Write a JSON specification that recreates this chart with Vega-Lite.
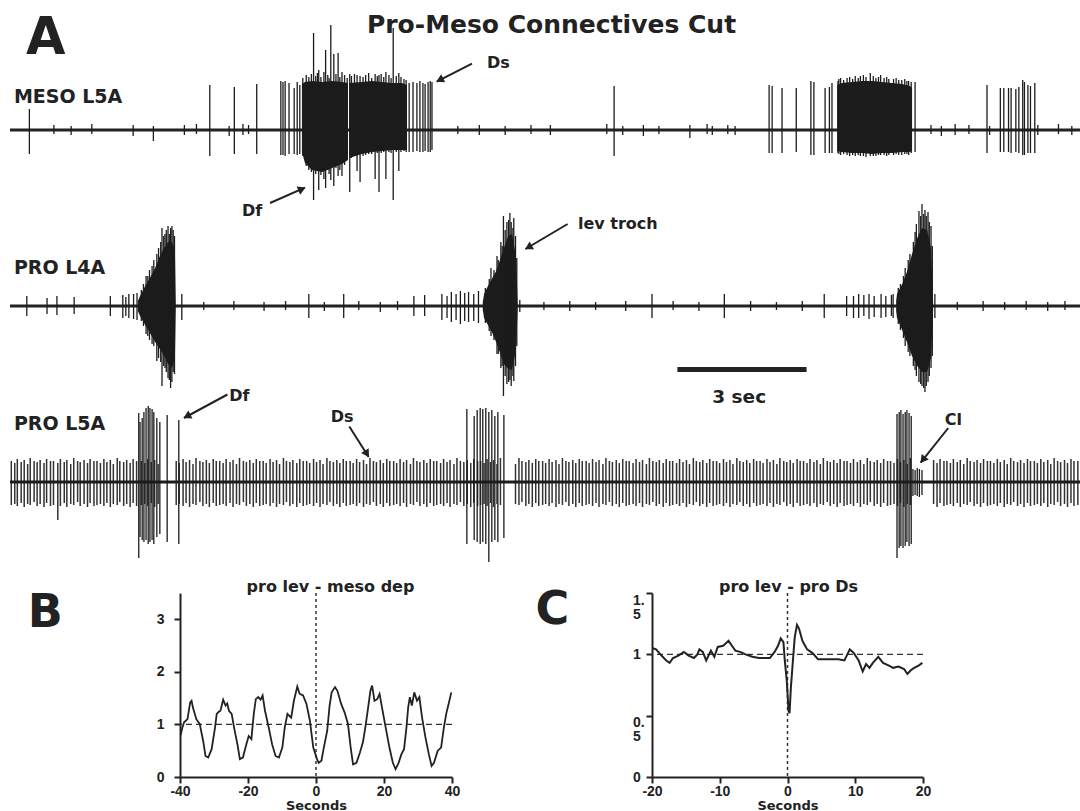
{
"$schema": "https://vega.github.io/schema/vega-lite/v6.json",
"background": "white",
"padding": {"left": 8, "top": 0, "right": 4, "bottom": 0},
"autosize": {"type": "pad"},
"config": {
 "view": {"stroke": null},
 "axis": {"grid": false, "domainColor": "#222", "domainWidth": 2, "tickColor": "#222", "tickWidth": 2, "tickSize": 6, "labelFont": "Liberation Sans", "labelFontSize": 14, "labelFontWeight": "bold", "labelColor": "#222", "labelFlush": false, "labelOverlap": false, "labelBound": false, "titleFont": "DejaVu Sans", "titleFontSize": 13, "titleFontWeight": "bold", "titleColor": "#222"},
 "text": {"font": "DejaVu Sans", "fontWeight": "bold", "color": "#222", "align": "left", "baseline": "alphabetic"}
},
"datasets": {
 "base": [{"t0": 0, "t1": 24.85}],
 "envM": [
  {"g":"a1","t":6.78,"h":46,"l":-22},{"g":"a1","t":6.85,"h":48,"l":-33},{"g":"a1","t":7.01,"h":49,"l":-40},{"g":"a1","t":7.25,"h":48,"l":-42},{"g":"a1","t":7.48,"h":49,"l":-38},{"g":"a1","t":7.71,"h":48,"l":-34},{"g":"a1","t":7.85,"h":47,"l":-30},
  {"g":"a2","t":7.88,"h":47,"l":-28},{"g":"a2","t":8.17,"h":48,"l":-24},{"g":"a2","t":8.41,"h":49,"l":-22},{"g":"a2","t":8.64,"h":48,"l":-21},{"g":"a2","t":8.87,"h":47,"l":-20},{"g":"a2","t":9.10,"h":47,"l":-20},{"g":"a2","t":9.22,"h":45,"l":-20},
  {"g":"b","t":19.21,"h":45,"l":-21},{"g":"b","t":19.32,"h":47,"l":-22},{"g":"b","t":19.55,"h":48,"l":-23},{"g":"b","t":19.79,"h":49,"l":-23},{"g":"b","t":20.02,"h":49,"l":-24},{"g":"b","t":20.25,"h":48,"l":-23},{"g":"b","t":20.48,"h":47,"l":-23},{"g":"b","t":20.72,"h":46,"l":-22},{"g":"b","t":20.90,"h":44,"l":-22},{"g":"b","t":20.95,"h":42,"l":-21}
 ],
 "spM": [
  {"t":0.45,"h":21,"l":-24},{"t":4.64,"h":45,"l":-26},{"t":5.21,"h":43,"l":-24},{"t":5.73,"h":46,"l":-24},{"t":6.29,"h":49,"l":-25},{"t":6.34,"h":48,"l":-25},{"t":6.39,"h":49,"l":-26},{"t":6.48,"h":47,"l":-24},{"t":6.60,"h":42,"l":-24},{"t":6.67,"h":48,"l":-25},{"t":6.73,"h":45,"l":-24},
  {"t":6.80,"h":52,"l":-26},{"t":6.88,"h":55,"l":-36},{"t":6.94,"h":53,"l":-40},{"t":7.00,"h":56,"l":-42},{"t":7.10,"h":54,"l":-44},{"t":7.14,"h":57,"l":-41},{"t":7.22,"h":53,"l":-45},{"t":7.38,"h":55,"l":-40},{"t":7.41,"h":52,"l":-44},{"t":7.57,"h":56,"l":-38},{"t":7.66,"h":53,"l":-40},{"t":7.77,"h":55,"l":-35},{"t":7.83,"h":52,"l":-30},{"t":7.93,"h":54,"l":-28},{"t":8.00,"h":56,"l":-26},{"t":8.20,"h":53,"l":-26},{"t":8.26,"h":55,"l":-25},{"t":8.33,"h":57,"l":-24},{"t":8.40,"h":52,"l":-24},{"t":8.53,"h":54,"l":-23},{"t":8.62,"h":56,"l":-23},{"t":8.68,"h":53,"l":-22},{"t":8.80,"h":55,"l":-22},{"t":8.85,"h":52,"l":-23},{"t":8.97,"h":54,"l":-22},{"t":9.08,"h":53,"l":-22},{"t":9.15,"h":51,"l":-21},{"t":9.20,"h":50,"l":-22},
  {"t":7.05,"h":97,"l":-70},{"t":7.17,"h":60,"l":-60},{"t":7.29,"h":58,"l":-49},{"t":7.33,"h":80,"l":-58},{"t":7.45,"h":105,"l":-50},{"t":7.52,"h":76,"l":-56},{"t":7.62,"h":77,"l":-46},{"t":7.71,"h":58,"l":-46},{"t":7.89,"h":56,"l":-62},{"t":8.06,"h":55,"l":-41},{"t":8.13,"h":54,"l":-52},{"t":8.48,"h":56,"l":-49},{"t":8.57,"h":55,"l":-62},{"t":8.73,"h":58,"l":-49},{"t":8.90,"h":102,"l":-70},{"t":9.03,"h":57,"l":-41},
  {"t":9.27,"h":47,"l":-22},{"t":9.36,"h":48,"l":-22},{"t":9.45,"h":47,"l":-21},{"t":9.52,"h":49,"l":-22},{"t":9.59,"h":47,"l":-22},{"t":9.64,"h":46,"l":-21},{"t":9.71,"h":48,"l":-22},{"t":9.76,"h":49,"l":-22},{"t":9.80,"h":48,"l":-20},
  {"t":14.03,"h":44,"l":-26},
  {"t":17.63,"h":45,"l":-23},{"t":17.70,"h":44,"l":-23},{"t":17.93,"h":42,"l":-23},{"t":18.26,"h":42,"l":-22},{"t":18.60,"h":49,"l":-25},{"t":18.67,"h":48,"l":-25},{"t":18.93,"h":42,"l":-23},{"t":19.03,"h":43,"l":-23},{"t":19.09,"h":47,"l":-23},
  {"t":19.23,"h":49,"l":-23},{"t":19.29,"h":52,"l":-25},{"t":19.36,"h":50,"l":-24},{"t":19.50,"h":53,"l":-26},{"t":19.57,"h":51,"l":-25},{"t":19.63,"h":54,"l":-26},{"t":19.70,"h":52,"l":-25},{"t":19.82,"h":55,"l":-26},{"t":19.88,"h":53,"l":-27},{"t":20.05,"h":54,"l":-26},{"t":20.11,"h":52,"l":-26},{"t":20.22,"h":55,"l":-25},{"t":20.30,"h":52,"l":-25},{"t":20.36,"h":53,"l":-26},{"t":20.52,"h":51,"l":-25},{"t":20.58,"h":52,"l":-24},{"t":20.64,"h":50,"l":-25},{"t":20.78,"h":51,"l":-24},{"t":20.83,"h":49,"l":-24},{"t":20.93,"h":48,"l":-23},
  {"t":19.25,"h":51,"l":-24},{"t":19.44,"h":52,"l":-25},{"t":19.75,"h":54,"l":-26},{"t":19.98,"h":57,"l":-26},{"t":20.17,"h":53,"l":-25},{"t":20.41,"h":51,"l":-25},{"t":20.71,"h":50,"l":-25},{"t":20.87,"h":49,"l":-25},{"t":21.02,"h":48,"l":-22},
  {"t":22.69,"h":45,"l":-23},{"t":23.00,"h":42,"l":-22},{"t":23.08,"h":42,"l":-22},{"t":23.19,"h":42,"l":-22},{"t":23.25,"h":42,"l":-23},{"t":23.36,"h":41,"l":-22},{"t":23.43,"h":43,"l":-23},{"t":23.52,"h":50,"l":-25},{"t":23.56,"h":48,"l":-25},{"t":23.64,"h":45,"l":-23},{"t":23.70,"h":44,"l":-23},{"t":23.80,"h":47,"l":-23},
  {"t":1.02,"h":5,"l":-4},{"t":1.42,"h":4,"l":-5},{"t":1.90,"h":6,"l":-4},{"t":2.86,"h":5,"l":-6},{"t":3.33,"h":4,"l":-11},{"t":4.05,"h":5,"l":-5},{"t":4.33,"h":6,"l":-4},{"t":5.09,"h":4,"l":-6},{"t":5.41,"h":6,"l":-5},{"t":5.54,"h":5,"l":-4},{"t":10.4,"h":4,"l":-4},{"t":10.9,"h":5,"l":-5},{"t":11.5,"h":4,"l":-5},{"t":12.1,"h":5,"l":-4},{"t":12.55,"h":5,"l":-5},{"t":13.86,"h":6,"l":-4},{"t":14.23,"h":4,"l":-5},{"t":14.71,"h":5,"l":-6},{"t":15.07,"h":4,"l":-4},{"t":15.79,"h":5,"l":-8},{"t":16.19,"h":6,"l":-4},{"t":16.31,"h":4,"l":-5},{"t":16.67,"h":5,"l":-4},{"t":16.84,"h":4,"l":-5},{"t":21.39,"h":5,"l":-4},{"t":21.63,"h":4,"l":-6},{"t":21.95,"h":6,"l":-5},{"t":22.27,"h":5,"l":-4},{"t":22.75,"h":4,"l":-5},{"t":23.87,"h":5,"l":-5},{"t":24.35,"h":6,"l":-4},{"t":24.66,"h":4,"l":-5}
 ],
 "txtM": [
  {"k":"letter","s":"A","t":0.37,"y":75.6},
  {"k":"title","s":"Pro-Meso Connectives Cut","t":8.29,"y":97},
  {"k":"trace","s":"MESO L5A","t":0.09,"y":27},
  {"k":"note","s":"Ds","t":11.08,"y":62.5},
  {"k":"note","s":"Df","t":5.39,"y":-85.5}
 ],
 "arrM": [
  {"id":"Ds","t":10.73,"y":66.3,"t2":9.91,"y2":48.4,"hx":9.98,"hy":50},
  {"id":"Df","t":6.04,"y":-73,"t2":6.85,"y2":-57.7,"hx":6.78,"hy":-59.1}
 ],
 "envP4": [
  {"g":"a","t":2.97,"h":5,"l":-5},{"g":"a","t":3.02,"h":10,"l":-10},{"g":"a","t":3.14,"h":20,"l":-19},{"g":"a","t":3.25,"h":28,"l":-27},{"g":"a","t":3.37,"h":38,"l":-36},{"g":"a","t":3.48,"h":50,"l":-43},{"g":"a","t":3.58,"h":58,"l":-50},{"g":"a","t":3.67,"h":64,"l":-58},{"g":"a","t":3.76,"h":64,"l":-62},{"g":"a","t":3.83,"h":56,"l":-54},{"g":"a","t":3.85,"h":3,"l":-3},
  {"g":"b","t":10.98,"h":4,"l":-4},{"g":"b","t":11.01,"h":12,"l":-12},{"g":"b","t":11.10,"h":20,"l":-19},{"g":"b","t":11.19,"h":27,"l":-26},{"g":"b","t":11.29,"h":35,"l":-36},{"g":"b","t":11.38,"h":46,"l":-47},{"g":"b","t":11.47,"h":58,"l":-58},{"g":"b","t":11.57,"h":70,"l":-63},{"g":"b","t":11.66,"h":72,"l":-64},{"g":"b","t":11.75,"h":50,"l":-45},{"g":"b","t":11.79,"h":3,"l":-3},
  {"g":"c","t":20.58,"h":5,"l":-5},{"g":"c","t":20.60,"h":12,"l":-12},{"g":"c","t":20.72,"h":22,"l":-24},{"g":"c","t":20.83,"h":34,"l":-36},{"g":"c","t":20.95,"h":52,"l":-50},{"g":"c","t":21.07,"h":68,"l":-60},{"g":"c","t":21.18,"h":78,"l":-66},{"g":"c","t":21.30,"h":76,"l":-66},{"g":"c","t":21.39,"h":58,"l":-52},{"g":"c","t":21.44,"h":3,"l":-3}
 ],
 "spP4": [
  {"t":0.39,"h":10,"l":-10},{"t":0.86,"h":8,"l":-8},{"t":1.09,"h":10,"l":-9},{"t":1.49,"h":9,"l":-8},{"t":2.33,"h":10,"l":-10},{"t":2.62,"h":11,"l":-12},{"t":2.69,"h":9,"l":-10},{"t":2.76,"h":12,"l":-12},{"t":2.87,"h":12,"l":-13},{"t":2.95,"h":13,"l":-14},
  {"t":3.05,"h":16,"l":-15},{"t":3.10,"h":22,"l":-20},{"t":3.16,"h":30,"l":-28},{"t":3.20,"h":30,"l":-30},{"t":3.24,"h":36,"l":-34},{"t":3.30,"h":40,"l":-38},{"t":3.34,"h":46,"l":-40},{"t":3.41,"h":52,"l":-55},{"t":3.45,"h":58,"l":-52},{"t":3.50,"h":64,"l":-56},{"t":3.53,"h":78,"l":-80},{"t":3.57,"h":70,"l":-60},{"t":3.60,"h":72,"l":-62},{"t":3.63,"h":76,"l":-66},{"t":3.67,"h":80,"l":-72},{"t":3.70,"h":72,"l":-74},{"t":3.73,"h":78,"l":-82},{"t":3.76,"h":80,"l":-76},{"t":3.79,"h":76,"l":-66},{"t":3.82,"h":70,"l":-68},
  {"t":3.99,"h":12,"l":-14},{"t":6.94,"h":12,"l":-12},{"t":7.75,"h":12,"l":-12},{"t":9.38,"h":10,"l":-10},{"t":9.63,"h":11,"l":-10},{"t":10.03,"h":12,"l":-14},{"t":10.15,"h":10,"l":-12},{"t":10.25,"h":14,"l":-16},{"t":10.36,"h":12,"l":-14},{"t":10.46,"h":15,"l":-18},{"t":10.56,"h":13,"l":-15},{"t":10.65,"h":14,"l":-16},{"t":10.77,"h":12,"l":-15},{"t":10.88,"h":15,"l":-17},
  {"t":4.5,"h":4,"l":-4},{"t":5.2,"h":5,"l":-4},{"t":5.9,"h":4,"l":-5},{"t":6.4,"h":5,"l":-4},{"t":7.3,"h":4,"l":-5},{"t":8.1,"h":5,"l":-4},{"t":8.6,"h":4,"l":-6},{"t":9.0,"h":5,"l":-4},
  {"t":11.04,"h":18,"l":-17},{"t":11.13,"h":27,"l":-25},{"t":11.17,"h":38,"l":-30},{"t":11.24,"h":36,"l":-34},{"t":11.31,"h":50,"l":-48},{"t":11.34,"h":46,"l":-48},{"t":11.40,"h":64,"l":-62},{"t":11.43,"h":60,"l":-60},{"t":11.46,"h":90,"l":-90},{"t":11.50,"h":76,"l":-70},{"t":11.54,"h":84,"l":-78},{"t":11.58,"h":86,"l":-76},{"t":11.61,"h":93,"l":-74},{"t":11.64,"h":84,"l":-80},{"t":11.68,"h":78,"l":-70},{"t":11.70,"h":88,"l":-75},{"t":11.74,"h":70,"l":-60},{"t":11.77,"h":48,"l":-40},
  {"t":11.84,"h":6,"l":-6},{"t":12.4,"h":4,"l":-4},{"t":13.0,"h":5,"l":-5},{"t":13.6,"h":4,"l":-4},{"t":14.3,"h":5,"l":-5},{"t":15.4,"h":5,"l":-4},{"t":16.0,"h":4,"l":-5},{"t":17.2,"h":5,"l":-5},{"t":17.8,"h":4,"l":-4},{"t":18.4,"h":5,"l":-5},
  {"t":14.91,"h":12,"l":-12},{"t":16.59,"h":12,"l":-12},{"t":18.91,"h":12,"l":-12},{"t":19.43,"h":10,"l":-10},{"t":19.59,"h":10,"l":-12},{"t":19.71,"h":12,"l":-12},{"t":19.83,"h":11,"l":-10},{"t":19.95,"h":12,"l":-13},{"t":20.07,"h":10,"l":-11},{"t":20.23,"h":12,"l":-12},{"t":20.34,"h":10,"l":-11},{"t":20.47,"h":11,"l":-10},{"t":20.51,"h":12,"l":-12},
  {"t":20.63,"h":18,"l":-18},{"t":20.68,"h":22,"l":-24},{"t":20.75,"h":30,"l":-32},{"t":20.79,"h":38,"l":-40},{"t":20.86,"h":46,"l":-46},{"t":20.90,"h":52,"l":-50},{"t":20.98,"h":64,"l":-60},{"t":21.02,"h":74,"l":-64},{"t":21.05,"h":82,"l":-70},{"t":21.11,"h":95,"l":-76},{"t":21.15,"h":90,"l":-78},{"t":21.18,"h":102,"l":-80},{"t":21.22,"h":92,"l":-82},{"t":21.25,"h":96,"l":-86},{"t":21.28,"h":90,"l":-80},{"t":21.32,"h":94,"l":-76},{"t":21.35,"h":84,"l":-70},{"t":21.39,"h":80,"l":-62},{"t":21.42,"h":60,"l":-50},
  {"t":21.48,"h":12,"l":-12},{"t":22.0,"h":4,"l":-4},{"t":22.6,"h":5,"l":-5},{"t":23.1,"h":4,"l":-4},{"t":23.6,"h":5,"l":-4},{"t":24.1,"h":4,"l":-5},{"t":24.5,"h":5,"l":-4}
 ],
 "txtP4": [
  {"k":"trace","s":"PRO L4A","t":0.09,"y":32},
  {"k":"note","s":"lev troch","t":13.19,"y":77},
  {"k":"bar","s":"3 sec","t":16.31,"y":-97}
 ],
 "arrP4": [
  {"id":"lev","t":12.95,"y":82,"t2":11.97,"y2":57,"hx":12.04,"hy":58.8}
 ],
 "bar": [{"t":15.5,"t2":18.5,"y":-63.5}],
 "p5burst": [
  {"t":2.99,"h":69,"l":-76},{"t":3.02,"h":60,"l":-55},{"t":3.07,"h":64,"l":-58},{"t":3.11,"h":70,"l":-60},{"t":3.16,"h":74,"l":-58},{"t":3.21,"h":76,"l":-62},{"t":3.25,"h":74,"l":-60},{"t":3.30,"h":73,"l":-58},{"t":3.34,"h":70,"l":-62},{"t":3.41,"h":64,"l":-55},{"t":3.48,"h":60,"l":-52},{"t":3.65,"h":67,"l":-60},{"t":3.92,"h":62,"l":-62},
  {"t":10.61,"h":73,"l":-62},{"t":10.78,"h":66,"l":-58},{"t":10.85,"h":72,"l":-60},{"t":10.92,"h":74,"l":-62},{"t":10.98,"h":73,"l":-60},{"t":11.05,"h":74,"l":-62},{"t":11.12,"h":70,"l":-80},{"t":11.19,"h":72,"l":-60},{"t":11.26,"h":66,"l":-58},{"t":11.33,"h":70,"l":-60},{"t":11.47,"h":67,"l":-56},
  {"t":20.60,"h":68,"l":-76},{"t":20.65,"h":70,"l":-66},{"t":20.69,"h":72,"l":-64},{"t":20.74,"h":68,"l":-66},{"t":20.79,"h":70,"l":-64},{"t":20.83,"h":72,"l":-60},{"t":20.88,"h":69,"l":-64},{"t":20.93,"h":66,"l":-62},
  {"t":20.97,"h":13,"l":-14},{"t":21.02,"h":12,"l":-13},{"t":21.07,"h":14,"l":-14},{"t":21.12,"h":13,"l":-15},{"t":21.18,"h":12,"l":-13}
 ],
 "p5band": [
  {"t":0.03,"h":21,"l":-23},{"t":0.11,"h":19,"l":-22},{"t":0.17,"h":23,"l":-24},{"t":0.26,"h":20,"l":-21},{"t":0.33,"h":22,"l":-25},{"t":0.41,"h":18,"l":-22},{"t":0.47,"h":24,"l":-23},{"t":0.56,"h":21,"l":-20},{"t":0.63,"h":20,"l":-24},{"t":0.70,"h":22,"l":-22},{"t":0.79,"h":19,"l":-25},{"t":0.85,"h":23,"l":-21},{"t":0.94,"h":21,"l":-24},{"t":1.01,"h":21,"l":-23},{"t":1.11,"h":19,"l":-38},{"t":1.17,"h":23,"l":-24},{"t":1.26,"h":20,"l":-21},{"t":1.32,"h":22,"l":-25},{"t":1.41,"h":18,"l":-22},{"t":1.48,"h":24,"l":-23},{"t":1.57,"h":21,"l":-20},{"t":1.63,"h":20,"l":-24},{"t":1.72,"h":22,"l":-22},{"t":1.80,"h":19,"l":-25},{"t":1.86,"h":23,"l":-21},{"t":1.95,"h":21,"l":-24},{"t":2.02,"h":21,"l":-23},{"t":2.10,"h":19,"l":-22},{"t":2.18,"h":23,"l":-24},{"t":2.25,"h":20,"l":-21},{"t":2.33,"h":22,"l":-25},{"t":2.40,"h":18,"l":-22},{"t":2.49,"h":24,"l":-23},{"t":2.55,"h":21,"l":-20},{"t":2.64,"h":20,"l":-24},{"t":2.71,"h":22,"l":-22},{"t":2.79,"h":19,"l":-25},{"t":2.86,"h":23,"l":-21},{"t":2.94,"h":21,"l":-24},{"t":3.05,"h":21,"l":-23},{"t":3.13,"h":19,"l":-22},{"t":3.20,"h":23,"l":-24},{"t":3.28,"h":20,"l":-21},{"t":3.36,"h":22,"l":-25},{"t":3.44,"h":18,"l":-22},
  {"t":3.86,"h":21,"l":-23},{"t":3.93,"h":19,"l":-22},{"t":4.02,"h":23,"l":-24},{"t":4.09,"h":20,"l":-21},{"t":4.17,"h":22,"l":-25},{"t":4.25,"h":18,"l":-22},{"t":4.32,"h":24,"l":-23},{"t":4.41,"h":21,"l":-20},{"t":4.48,"h":20,"l":-24},{"t":4.56,"h":22,"l":-22},{"t":4.63,"h":19,"l":-25},{"t":4.72,"h":23,"l":-21},{"t":4.79,"h":21,"l":-24},{"t":4.87,"h":21,"l":-23},{"t":4.95,"h":19,"l":-22},{"t":5.02,"h":23,"l":-24},{"t":5.11,"h":20,"l":-21},{"t":5.18,"h":22,"l":-25},{"t":5.26,"h":18,"l":-22},{"t":5.33,"h":24,"l":-23},{"t":5.42,"h":21,"l":-20},{"t":5.49,"h":20,"l":-24},{"t":5.57,"h":22,"l":-22},{"t":5.65,"h":19,"l":-25},{"t":5.72,"h":23,"l":-21},{"t":5.80,"h":21,"l":-24},{"t":5.88,"h":21,"l":-23},{"t":5.95,"h":19,"l":-22},{"t":6.04,"h":23,"l":-24},{"t":6.11,"h":20,"l":-21},{"t":6.19,"h":22,"l":-25},{"t":6.26,"h":18,"l":-22},{"t":6.35,"h":24,"l":-23},{"t":6.42,"h":21,"l":-20},{"t":6.50,"h":20,"l":-24},{"t":6.57,"h":22,"l":-22},{"t":6.66,"h":19,"l":-25},{"t":6.73,"h":23,"l":-21},{"t":6.81,"h":21,"l":-24},{"t":6.89,"h":21,"l":-23},{"t":6.96,"h":19,"l":-22},{"t":7.05,"h":23,"l":-24},{"t":7.12,"h":20,"l":-21},{"t":7.20,"h":22,"l":-25},{"t":7.27,"h":18,"l":-22},{"t":7.36,"h":24,"l":-23},{"t":7.43,"h":21,"l":-20},{"t":7.51,"h":20,"l":-24},{"t":7.59,"h":22,"l":-22},{"t":7.66,"h":19,"l":-25},{"t":7.74,"h":23,"l":-21},{"t":7.81,"h":21,"l":-24},{"t":7.90,"h":21,"l":-23},{"t":7.97,"h":19,"l":-22},{"t":8.05,"h":23,"l":-24},{"t":8.12,"h":20,"l":-21},{"t":8.21,"h":22,"l":-25},{"t":8.28,"h":18,"l":-22},{"t":8.36,"h":24,"l":-23},{"t":8.44,"h":21,"l":-20},{"t":8.51,"h":20,"l":-24},{"t":8.60,"h":22,"l":-22},{"t":8.67,"h":19,"l":-25},{"t":8.75,"h":23,"l":-21},{"t":8.82,"h":21,"l":-24},{"t":8.91,"h":21,"l":-23},{"t":8.98,"h":19,"l":-22},{"t":9.06,"h":23,"l":-24},{"t":9.14,"h":20,"l":-21},{"t":9.21,"h":22,"l":-25},{"t":9.30,"h":18,"l":-22},{"t":9.37,"h":24,"l":-23},{"t":9.45,"h":21,"l":-20},{"t":9.52,"h":20,"l":-24},{"t":9.61,"h":22,"l":-22},{"t":9.68,"h":19,"l":-25},{"t":9.76,"h":23,"l":-21},{"t":9.84,"h":21,"l":-24},{"t":9.91,"h":21,"l":-23},{"t":10.00,"h":19,"l":-22},{"t":10.07,"h":23,"l":-24},{"t":10.15,"h":20,"l":-21},{"t":10.22,"h":22,"l":-25},{"t":10.31,"h":18,"l":-22},{"t":10.38,"h":24,"l":-23},{"t":10.46,"h":21,"l":-20},{"t":10.54,"h":20,"l":-24},{"t":10.62,"h":22,"l":-22},{"t":10.70,"h":19,"l":-25},{"t":10.77,"h":23,"l":-21},{"t":10.86,"h":21,"l":-24},{"t":10.93,"h":21,"l":-23},{"t":11.01,"h":19,"l":-22},{"t":11.08,"h":23,"l":-24},{"t":11.16,"h":20,"l":-21},{"t":11.23,"h":22,"l":-25},{"t":11.31,"h":18,"l":-22},{"t":11.39,"h":24,"l":-23},
  {"t":11.74,"h":18,"l":-22},{"t":11.82,"h":24,"l":-23},{"t":11.89,"h":21,"l":-20},{"t":11.98,"h":20,"l":-24},{"t":12.05,"h":22,"l":-22},{"t":12.13,"h":19,"l":-25},{"t":12.21,"h":23,"l":-21},{"t":12.28,"h":21,"l":-24},{"t":12.37,"h":21,"l":-23},{"t":12.44,"h":19,"l":-22},{"t":12.52,"h":23,"l":-24},{"t":12.59,"h":20,"l":-21},{"t":12.68,"h":22,"l":-25},{"t":12.75,"h":18,"l":-22},{"t":12.83,"h":24,"l":-23},{"t":12.91,"h":21,"l":-20},{"t":12.98,"h":20,"l":-24},{"t":13.07,"h":22,"l":-22},{"t":13.14,"h":19,"l":-25},{"t":13.22,"h":23,"l":-21},{"t":13.29,"h":21,"l":-24},{"t":13.38,"h":21,"l":-23},{"t":13.45,"h":19,"l":-22},{"t":13.53,"h":23,"l":-24},{"t":13.61,"h":20,"l":-21},{"t":13.68,"h":22,"l":-25},{"t":13.77,"h":18,"l":-22},{"t":13.84,"h":24,"l":-23},{"t":13.92,"h":21,"l":-20},{"t":13.99,"h":20,"l":-24},{"t":14.08,"h":22,"l":-22},{"t":14.15,"h":19,"l":-25},{"t":14.23,"h":23,"l":-21},{"t":14.31,"h":21,"l":-24},{"t":14.38,"h":21,"l":-23},{"t":14.47,"h":19,"l":-22},{"t":14.54,"h":23,"l":-24},{"t":14.62,"h":20,"l":-21},{"t":14.69,"h":22,"l":-25},{"t":14.78,"h":18,"l":-22},{"t":14.85,"h":24,"l":-23},{"t":14.93,"h":21,"l":-20},{"t":15.01,"h":20,"l":-24},{"t":15.08,"h":22,"l":-22},{"t":15.17,"h":19,"l":-25},{"t":15.24,"h":23,"l":-21},{"t":15.32,"h":21,"l":-24},{"t":15.39,"h":21,"l":-23},{"t":15.48,"h":19,"l":-22},{"t":15.55,"h":23,"l":-24},{"t":15.63,"h":20,"l":-21},{"t":15.71,"h":22,"l":-25},{"t":15.78,"h":18,"l":-22},{"t":15.87,"h":24,"l":-23},{"t":15.94,"h":21,"l":-20},{"t":16.02,"h":20,"l":-24},{"t":16.09,"h":22,"l":-22},{"t":16.18,"h":19,"l":-25},{"t":16.25,"h":23,"l":-21},{"t":16.33,"h":21,"l":-24},{"t":16.41,"h":21,"l":-23},{"t":16.48,"h":19,"l":-22},{"t":16.57,"h":23,"l":-24},{"t":16.64,"h":20,"l":-21},{"t":16.72,"h":22,"l":-25},{"t":16.79,"h":18,"l":-22},{"t":16.88,"h":24,"l":-23},{"t":16.95,"h":21,"l":-20},{"t":17.03,"h":20,"l":-24},{"t":17.11,"h":22,"l":-22},{"t":17.18,"h":19,"l":-25},{"t":17.27,"h":23,"l":-21},{"t":17.34,"h":21,"l":-24},{"t":17.42,"h":21,"l":-23},{"t":17.49,"h":19,"l":-22},{"t":17.58,"h":23,"l":-24},{"t":17.65,"h":20,"l":-21},{"t":17.73,"h":22,"l":-25},{"t":17.81,"h":18,"l":-22},{"t":17.88,"h":24,"l":-23},{"t":17.97,"h":21,"l":-20},{"t":18.04,"h":20,"l":-24},{"t":18.12,"h":22,"l":-22},{"t":18.19,"h":19,"l":-25},{"t":18.28,"h":23,"l":-21},{"t":18.35,"h":21,"l":-24},{"t":18.43,"h":21,"l":-23},{"t":18.51,"h":19,"l":-22},{"t":18.58,"h":23,"l":-24},{"t":18.67,"h":20,"l":-21},{"t":18.74,"h":22,"l":-25},{"t":18.82,"h":18,"l":-22},{"t":18.89,"h":24,"l":-23},{"t":18.98,"h":21,"l":-20},{"t":19.05,"h":20,"l":-24},{"t":19.13,"h":22,"l":-22},{"t":19.21,"h":19,"l":-25},{"t":19.28,"h":23,"l":-21},{"t":19.37,"h":21,"l":-24},{"t":19.44,"h":21,"l":-23},{"t":19.52,"h":19,"l":-22},{"t":19.59,"h":23,"l":-24},{"t":19.68,"h":20,"l":-21},{"t":19.75,"h":22,"l":-25},{"t":19.83,"h":18,"l":-22},{"t":19.91,"h":24,"l":-23},{"t":19.98,"h":21,"l":-20},{"t":20.07,"h":20,"l":-24},{"t":20.14,"h":22,"l":-22},{"t":20.22,"h":19,"l":-25},{"t":20.29,"h":23,"l":-21},{"t":20.38,"h":21,"l":-24},{"t":20.45,"h":21,"l":-23},{"t":20.53,"h":19,"l":-22},{"t":20.61,"h":23,"l":-24},{"t":20.68,"h":20,"l":-21},{"t":20.76,"h":22,"l":-25},{"t":20.84,"h":18,"l":-22},{"t":20.91,"h":24,"l":-23},
  {"t":21.45,"h":22,"l":-22},{"t":21.53,"h":19,"l":-25},{"t":21.60,"h":23,"l":-21},{"t":21.69,"h":21,"l":-24},{"t":21.76,"h":21,"l":-23},{"t":21.84,"h":19,"l":-22},{"t":21.91,"h":23,"l":-24},{"t":22.00,"h":20,"l":-21},{"t":22.07,"h":22,"l":-25},{"t":22.15,"h":18,"l":-22},{"t":22.23,"h":24,"l":-23},{"t":22.30,"h":21,"l":-20},{"t":22.39,"h":20,"l":-24},{"t":22.46,"h":22,"l":-22},{"t":22.54,"h":19,"l":-25},{"t":22.61,"h":23,"l":-21},{"t":22.70,"h":21,"l":-24},{"t":22.77,"h":21,"l":-23},{"t":22.85,"h":19,"l":-22},{"t":22.93,"h":23,"l":-24},{"t":23.00,"h":20,"l":-21},{"t":23.09,"h":22,"l":-25},{"t":23.16,"h":18,"l":-22},{"t":23.24,"h":24,"l":-23},{"t":23.31,"h":21,"l":-20},{"t":23.40,"h":20,"l":-24},{"t":23.47,"h":22,"l":-22},{"t":23.55,"h":19,"l":-25},{"t":23.63,"h":23,"l":-21},{"t":23.70,"h":21,"l":-24},{"t":23.79,"h":21,"l":-23},{"t":23.86,"h":19,"l":-22},{"t":23.94,"h":23,"l":-24},{"t":24.01,"h":20,"l":-21},{"t":24.10,"h":22,"l":-25},{"t":24.17,"h":18,"l":-22},{"t":24.25,"h":24,"l":-23},{"t":24.33,"h":21,"l":-20},{"t":24.40,"h":20,"l":-24},{"t":24.49,"h":22,"l":-22},{"t":24.56,"h":19,"l":-25},{"t":24.64,"h":23,"l":-21},{"t":24.71,"h":21,"l":-24},{"t":24.80,"h":21,"l":-23}
 ],
 "txtP5": [
  {"k":"trace","s":"PRO L5A","t":0.09,"y":52},
  {"k":"note","s":"Df","t":5.09,"y":81.3},
  {"k":"note","s":"Ds","t":7.45,"y":60},
  {"k":"note","s":"Cl","t":21.71,"y":57.5}
 ],
 "arrP5": [
  {"id":"Df","t":5.05,"y":87.5,"t2":4.04,"y2":64,"hx":4.11,"hy":65.7},
  {"id":"Ds","t":7.88,"y":55.5,"t2":8.33,"y2":25,"hx":8.29,"hy":28},
  {"id":"Cl","t":21.79,"y":54,"t2":21.15,"y2":19.4,"hx":21.20,"hy":22.1}
 ],
 "labB": [
  {"k":"panel","s":-84.76,"r":2.86,"txt":"B"},
  {"k":"head","s":4.26,"r":3.52,"txt":"pro lev - meso dep"}
 ],
 "labC": [
  {"k":"panel","s":-37.2,"r":1.247,"txt":"C"},
  {"k":"head","s":0.15,"r":1.508,"txt":"pro lev - pro Ds"}
 ],
 "ccB": [
  {"s":-39.8,"r":0.80},{"s":-39.3,"r":0.94},{"s":-38.8,"r":1.04},{"s":-37.8,"r":1.10},{"s":-37.3,"r":1.30},{"s":-37.0,"r":1.42},{"s":-36.6,"r":1.45},{"s":-36.2,"r":1.32},{"s":-35.2,"r":1.10},{"s":-34.2,"r":1.01},{"s":-33.2,"r":0.69},{"s":-32.5,"r":0.40},{"s":-31.7,"r":0.37},{"s":-30.7,"r":0.53},{"s":-29.7,"r":0.94},{"s":-29.2,"r":1.20},{"s":-28.6,"r":1.24},{"s":-28.1,"r":1.26},{"s":-27.3,"r":1.47},{"s":-26.6,"r":1.36},{"s":-26.1,"r":1.40},{"s":-25.6,"r":1.26},{"s":-24.8,"r":1.20},{"s":-24.1,"r":0.94},{"s":-23.1,"r":0.62},{"s":-22.4,"r":0.34},{"s":-21.5,"r":0.37},{"s":-20.5,"r":0.62},{"s":-19.8,"r":0.78},{"s":-19.0,"r":0.72},{"s":-18.3,"r":1.20},{"s":-17.7,"r":1.48},{"s":-17.0,"r":1.52},{"s":-16.3,"r":1.47},{"s":-15.7,"r":1.55},{"s":-15.0,"r":1.26},{"s":-13.9,"r":0.94},{"s":-12.9,"r":0.62},{"s":-11.9,"r":0.40},{"s":-10.9,"r":0.37},{"s":-9.9,"r":0.56},{"s":-9.2,"r":0.94},{"s":-8.4,"r":1.20},{"s":-7.8,"r":1.16},{"s":-7.3,"r":1.13},{"s":-6.5,"r":1.45},{"s":-5.5,"r":1.72},{"s":-4.8,"r":1.58},{"s":-3.8,"r":1.55},{"s":-2.8,"r":1.39},{"s":-1.8,"r":1.07},{"s":-0.8,"r":0.56},{"s":0.3,"r":0.34},{"s":0.8,"r":0.27},{"s":1.6,"r":0.31},{"s":2.3,"r":0.56},{"s":3.3,"r":0.88},{"s":4.0,"r":1.36},{"s":4.6,"r":1.61},{"s":5.6,"r":1.71},{"s":6.3,"r":1.64},{"s":7.4,"r":1.39},{"s":8.4,"r":1.23},{"s":9.4,"r":1.01},{"s":10.2,"r":0.56},{"s":10.9,"r":0.24},{"s":11.9,"r":0.27},{"s":12.9,"r":0.46},{"s":13.8,"r":0.66},{"s":14.5,"r":0.94},{"s":15.2,"r":1.26},{"s":16.0,"r":1.64},{"s":16.5,"r":1.74},{"s":17.2,"r":1.45},{"s":18.0,"r":1.48},{"s":18.7,"r":1.58},{"s":19.5,"r":1.29},{"s":20.5,"r":0.94},{"s":21.6,"r":0.56},{"s":22.6,"r":0.27},{"s":23.4,"r":0.15},{"s":24.3,"r":0.27},{"s":25.1,"r":0.43},{"s":25.9,"r":0.53},{"s":26.6,"r":0.94},{"s":27.1,"r":1.32},{"s":27.6,"r":1.52},{"s":28.2,"r":1.36},{"s":28.9,"r":1.61},{"s":29.7,"r":1.45},{"s":30.4,"r":1.52},{"s":31.2,"r":1.13},{"s":32.2,"r":0.75},{"s":33.2,"r":0.43},{"s":34.0,"r":0.21},{"s":34.7,"r":0.27},{"s":35.8,"r":0.50},{"s":36.8,"r":0.56},{"s":37.6,"r":0.94},{"s":38.3,"r":1.20},{"s":39.0,"r":1.39},{"s":39.8,"r":1.61}
 ],
 "ccC": [
  {"s":-19.9,"r":1.05},{"s":-19.4,"r":1.04},{"s":-18.6,"r":0.99},{"s":-17.9,"r":0.95},{"s":-17.4,"r":0.93},{"s":-16.9,"r":0.97},{"s":-16.1,"r":0.99},{"s":-15.3,"r":1.02},{"s":-14.6,"r":0.99},{"s":-13.8,"r":0.97},{"s":-13.3,"r":1.00},{"s":-13.0,"r":1.04},{"s":-12.5,"r":1.02},{"s":-12.0,"r":0.95},{"s":-11.3,"r":1.03},{"s":-10.8,"r":0.98},{"s":-10.3,"r":1.06},{"s":-9.5,"r":1.07},{"s":-8.7,"r":1.11},{"s":-8.2,"r":1.07},{"s":-7.7,"r":1.03},{"s":-7.0,"r":1.02},{"s":-6.2,"r":1.00},{"s":-5.2,"r":0.98},{"s":-4.2,"r":0.97},{"s":-2.6,"r":0.97},{"s":-1.9,"r":1.02},{"s":-1.4,"r":1.07},{"s":-1.0,"r":1.13},{"s":-0.6,"r":1.10},{"s":-0.4,"r":0.95},{"s":-0.1,"r":0.78},{"s":0.15,"r":0.54},{"s":0.3,"r":0.52},{"s":0.5,"r":0.73},{"s":0.8,"r":0.95},{"s":1.07,"r":1.14},{"s":1.4,"r":1.24},{"s":1.7,"r":1.21},{"s":2.2,"r":1.11},{"s":2.9,"r":1.04},{"s":3.7,"r":1.01},{"s":4.5,"r":0.96},{"s":6.0,"r":0.96},{"s":7.5,"r":0.96},{"s":8.4,"r":0.95},{"s":9.2,"r":1.04},{"s":9.8,"r":1.01},{"s":10.5,"r":0.95},{"s":11.1,"r":0.86},{"s":11.6,"r":0.92},{"s":12.1,"r":0.89},{"s":12.6,"r":0.93},{"s":13.4,"r":0.98},{"s":14.1,"r":0.93},{"s":14.9,"r":0.91},{"s":15.6,"r":0.89},{"s":16.4,"r":0.90},{"s":17.2,"r":0.88},{"s":17.7,"r":0.84},{"s":18.2,"r":0.87},{"s":18.7,"r":0.89},{"s":19.4,"r":0.91},{"s":19.9,"r":0.93}
 ]
},
"bounds": "flush",
"spacing": 0,
"vconcat": [
 {
  "width": 1070, "height": 215,
  "layer": [
   {"data": {"name": "base"}, "mark": {"type": "rule", "strokeWidth": 3, "color": "#222"}, "encoding": {"x": {"field": "t0", "type": "quantitative", "scale": {"domain": [0, 24.85], "nice": false}, "axis": null}, "x2": {"field": "t1"}, "y": {"datum": 0, "type": "quantitative", "scale": {"domain": [-85, 130], "nice": false}, "axis": null}}},
   {"data": {"name": "envM"}, "mark": {"type": "area", "color": "#1c1c1c"}, "encoding": {"x": {"field": "t", "type": "quantitative", "scale": {"domain": [0, 24.85], "nice": false}, "axis": null}, "y": {"field": "h", "type": "quantitative", "scale": {"domain": [-85, 130], "nice": false}, "axis": null}, "y2": {"field": "l"}, "detail": {"field": "g"}}},
   {"data": {"name": "spM"}, "mark": {"type": "rule", "strokeWidth": 1.3, "color": "#1c1c1c"}, "encoding": {"x": {"field": "t", "type": "quantitative", "scale": {"domain": [0, 24.85], "nice": false}, "axis": null}, "y": {"field": "h", "type": "quantitative", "scale": {"domain": [-85, 130], "nice": false}, "axis": null}, "y2": {"field": "l"}}},
   {"data": {"name": "txtM"}, "transform": [{"filter": "datum.k == 'letter'"}], "mark": {"type": "text", "fontSize": 51}, "encoding": {"x": {"field": "t", "type": "quantitative", "scale": {"domain": [0, 24.85], "nice": false}, "axis": null}, "y": {"field": "y", "type": "quantitative", "scale": {"domain": [-85, 130], "nice": false}, "axis": null}, "text": {"field": "s"}}},
   {"data": {"name": "txtM"}, "transform": [{"filter": "datum.k == 'title'"}], "mark": {"type": "text", "fontSize": 25}, "encoding": {"x": {"field": "t", "type": "quantitative", "scale": {"domain": [0, 24.85], "nice": false}, "axis": null}, "y": {"field": "y", "type": "quantitative", "scale": {"domain": [-85, 130], "nice": false}, "axis": null}, "text": {"field": "s"}}},
   {"data": {"name": "txtM"}, "transform": [{"filter": "datum.k == 'trace'"}], "mark": {"type": "text", "fontSize": 19}, "encoding": {"x": {"field": "t", "type": "quantitative", "scale": {"domain": [0, 24.85], "nice": false}, "axis": null}, "y": {"field": "y", "type": "quantitative", "scale": {"domain": [-85, 130], "nice": false}, "axis": null}, "text": {"field": "s"}}},
   {"data": {"name": "txtM"}, "transform": [{"filter": "datum.k == 'note'"}], "mark": {"type": "text", "fontSize": 16}, "encoding": {"x": {"field": "t", "type": "quantitative", "scale": {"domain": [0, 24.85], "nice": false}, "axis": null}, "y": {"field": "y", "type": "quantitative", "scale": {"domain": [-85, 130], "nice": false}, "axis": null}, "text": {"field": "s"}}},
   {"data": {"name": "arrM"}, "mark": {"type": "rule", "strokeWidth": 2, "color": "#222"}, "encoding": {"x": {"field": "t", "type": "quantitative", "scale": {"domain": [0, 24.85], "nice": false}, "axis": null}, "y": {"field": "y", "type": "quantitative", "scale": {"domain": [-85, 130], "nice": false}, "axis": null}, "x2": {"field": "t2"}, "y2": {"field": "y2"}}},
   {"data": {"name": "arrM"}, "transform": [{"filter": "datum.id == 'Ds'"}], "mark": {"type": "point", "shape": "triangle-up", "filled": true, "opacity": 1, "size": 80, "angle": 243, "color": "#222"}, "encoding": {"x": {"field": "hx", "type": "quantitative", "scale": {"domain": [0, 24.85], "nice": false}, "axis": null}, "y": {"field": "hy", "type": "quantitative", "scale": {"domain": [-85, 130], "nice": false}, "axis": null}}},
   {"data": {"name": "arrM"}, "transform": [{"filter": "datum.id == 'Df'"}], "mark": {"type": "point", "shape": "triangle-up", "filled": true, "opacity": 1, "size": 80, "angle": 66, "color": "#222"}, "encoding": {"x": {"field": "hx", "type": "quantitative", "scale": {"domain": [0, 24.85], "nice": false}, "axis": null}, "y": {"field": "hy", "type": "quantitative", "scale": {"domain": [-85, 130], "nice": false}, "axis": null}}}
  ]
 },
 {
  "width": 1070, "height": 180,
  "layer": [
   {"data": {"name": "base"}, "mark": {"type": "rule", "strokeWidth": 3, "color": "#222"}, "encoding": {"x": {"field": "t0", "type": "quantitative", "scale": {"domain": [0, 24.85], "nice": false}, "axis": null}, "x2": {"field": "t1"}, "y": {"datum": 0, "type": "quantitative", "scale": {"domain": [-89, 91], "nice": false}, "axis": null}}},
   {"data": {"name": "envP4"}, "mark": {"type": "area", "color": "#1c1c1c"}, "encoding": {"x": {"field": "t", "type": "quantitative", "scale": {"domain": [0, 24.85], "nice": false}, "axis": null}, "y": {"field": "h", "type": "quantitative", "scale": {"domain": [-89, 91], "nice": false}, "axis": null}, "y2": {"field": "l"}, "detail": {"field": "g"}}},
   {"data": {"name": "spP4"}, "mark": {"type": "rule", "strokeWidth": 1.3, "color": "#1c1c1c"}, "encoding": {"x": {"field": "t", "type": "quantitative", "scale": {"domain": [0, 24.85], "nice": false}, "axis": null}, "y": {"field": "h", "type": "quantitative", "scale": {"domain": [-89, 91], "nice": false}, "axis": null}, "y2": {"field": "l"}}},
   {"data": {"name": "bar"}, "mark": {"type": "rule", "strokeWidth": 5, "color": "#222"}, "encoding": {"x": {"field": "t", "type": "quantitative", "scale": {"domain": [0, 24.85], "nice": false}, "axis": null}, "x2": {"field": "t2"}, "y": {"field": "y", "type": "quantitative", "scale": {"domain": [-89, 91], "nice": false}, "axis": null}}},
   {"data": {"name": "txtP4"}, "transform": [{"filter": "datum.k == 'trace'"}], "mark": {"type": "text", "fontSize": 19}, "encoding": {"x": {"field": "t", "type": "quantitative", "scale": {"domain": [0, 24.85], "nice": false}, "axis": null}, "y": {"field": "y", "type": "quantitative", "scale": {"domain": [-89, 91], "nice": false}, "axis": null}, "text": {"field": "s"}}},
   {"data": {"name": "txtP4"}, "transform": [{"filter": "datum.k == 'note'"}], "mark": {"type": "text", "fontSize": 16}, "encoding": {"x": {"field": "t", "type": "quantitative", "scale": {"domain": [0, 24.85], "nice": false}, "axis": null}, "y": {"field": "y", "type": "quantitative", "scale": {"domain": [-89, 91], "nice": false}, "axis": null}, "text": {"field": "s"}}},
   {"data": {"name": "txtP4"}, "transform": [{"filter": "datum.k == 'bar'"}], "mark": {"type": "text", "fontSize": 18.5}, "encoding": {"x": {"field": "t", "type": "quantitative", "scale": {"domain": [0, 24.85], "nice": false}, "axis": null}, "y": {"field": "y", "type": "quantitative", "scale": {"domain": [-89, 91], "nice": false}, "axis": null}, "text": {"field": "s"}}},
   {"data": {"name": "arrP4"}, "mark": {"type": "rule", "strokeWidth": 2, "color": "#222"}, "encoding": {"x": {"field": "t", "type": "quantitative", "scale": {"domain": [0, 24.85], "nice": false}, "axis": null}, "y": {"field": "y", "type": "quantitative", "scale": {"domain": [-89, 91], "nice": false}, "axis": null}, "x2": {"field": "t2"}, "y2": {"field": "y2"}}},
   {"data": {"name": "arrP4"}, "mark": {"type": "point", "shape": "triangle-up", "filled": true, "opacity": 1, "size": 80, "angle": 240, "color": "#222"}, "encoding": {"x": {"field": "hx", "type": "quantitative", "scale": {"domain": [0, 24.85], "nice": false}, "axis": null}, "y": {"field": "hy", "type": "quantitative", "scale": {"domain": [-89, 91], "nice": false}, "axis": null}}}
  ]
 },
 {
  "width": 1070, "height": 198,
  "layer": [
   {"data": {"name": "p5band"}, "mark": {"type": "rule", "strokeWidth": 1.5, "color": "#333"}, "encoding": {"x": {"field": "t", "type": "quantitative", "scale": {"domain": [0, 24.85], "nice": false}, "axis": null}, "y": {"field": "h", "type": "quantitative", "scale": {"domain": [-111, 87], "nice": false}, "axis": null}, "y2": {"field": "l"}}},
   {"data": {"name": "base"}, "mark": {"type": "rule", "strokeWidth": 3, "color": "#1c1c1c"}, "encoding": {"x": {"field": "t0", "type": "quantitative", "scale": {"domain": [0, 24.85], "nice": false}, "axis": null}, "x2": {"field": "t1"}, "y": {"datum": 0, "type": "quantitative", "scale": {"domain": [-111, 87], "nice": false}, "axis": null}}},
   {"data": {"name": "p5burst"}, "mark": {"type": "rule", "strokeWidth": 1.3, "color": "#1c1c1c"}, "encoding": {"x": {"field": "t", "type": "quantitative", "scale": {"domain": [0, 24.85], "nice": false}, "axis": null}, "y": {"field": "h", "type": "quantitative", "scale": {"domain": [-111, 87], "nice": false}, "axis": null}, "y2": {"field": "l"}}},
   {"data": {"name": "txtP5"}, "transform": [{"filter": "datum.k == 'trace'"}], "mark": {"type": "text", "fontSize": 19}, "encoding": {"x": {"field": "t", "type": "quantitative", "scale": {"domain": [0, 24.85], "nice": false}, "axis": null}, "y": {"field": "y", "type": "quantitative", "scale": {"domain": [-111, 87], "nice": false}, "axis": null}, "text": {"field": "s"}}},
   {"data": {"name": "txtP5"}, "transform": [{"filter": "datum.k == 'note'"}], "mark": {"type": "text", "fontSize": 16}, "encoding": {"x": {"field": "t", "type": "quantitative", "scale": {"domain": [0, 24.85], "nice": false}, "axis": null}, "y": {"field": "y", "type": "quantitative", "scale": {"domain": [-111, 87], "nice": false}, "axis": null}, "text": {"field": "s"}}},
   {"data": {"name": "arrP5"}, "mark": {"type": "rule", "strokeWidth": 2, "color": "#222"}, "encoding": {"x": {"field": "t", "type": "quantitative", "scale": {"domain": [0, 24.85], "nice": false}, "axis": null}, "y": {"field": "y", "type": "quantitative", "scale": {"domain": [-111, 87], "nice": false}, "axis": null}, "x2": {"field": "t2"}, "y2": {"field": "y2"}}},
   {"data": {"name": "arrP5"}, "transform": [{"filter": "datum.id == 'Df'"}], "mark": {"type": "point", "shape": "triangle-up", "filled": true, "opacity": 1, "size": 80, "angle": 242, "color": "#222"}, "encoding": {"x": {"field": "hx", "type": "quantitative", "scale": {"domain": [0, 24.85], "nice": false}, "axis": null}, "y": {"field": "hy", "type": "quantitative", "scale": {"domain": [-111, 87], "nice": false}, "axis": null}}},
   {"data": {"name": "arrP5"}, "transform": [{"filter": "datum.id == 'Ds'"}], "mark": {"type": "point", "shape": "triangle-up", "filled": true, "opacity": 1, "size": 80, "angle": 148, "color": "#222"}, "encoding": {"x": {"field": "hx", "type": "quantitative", "scale": {"domain": [0, 24.85], "nice": false}, "axis": null}, "y": {"field": "hy", "type": "quantitative", "scale": {"domain": [-111, 87], "nice": false}, "axis": null}}},
   {"data": {"name": "arrP5"}, "transform": [{"filter": "datum.id == 'Cl'"}], "mark": {"type": "point", "shape": "triangle-up", "filled": true, "opacity": 1, "size": 80, "angle": 218, "color": "#222"}, "encoding": {"x": {"field": "hx", "type": "quantitative", "scale": {"domain": [0, 24.85], "nice": false}, "axis": null}, "y": {"field": "hy", "type": "quantitative", "scale": {"domain": [-111, 87], "nice": false}, "axis": null}}}
  ]
 },
 {
  "bounds": "flush",
  "spacing": 0,
  "hconcat": [
   {"width": 170, "height": 184, "data": {"values": []}, "mark": {"type": "point", "opacity": 0}, "encoding": {}},
   {"width": 272, "height": 184,
    "layer": [
     {"data": {"values": [{}]}, "mark": {"type": "rule", "strokeDash": [6, 4], "strokeWidth": 1.3, "color": "#333"}, "encoding": {"y": {"datum": 1, "type": "quantitative"}}},
     {"data": {"values": [{}]}, "mark": {"type": "rule", "strokeDash": [3, 3], "strokeWidth": 1.5, "color": "#333"}, "encoding": {"x": {"datum": 0, "type": "quantitative"}}},
     {"data": {"name": "ccB"}, "mark": {"type": "line", "color": "#222", "strokeWidth": 1.8},
      "encoding": {
       "x": {"field": "s", "type": "quantitative", "scale": {"domain": [-40, 40], "nice": false},
             "axis": {"values": [-40, -30, -20, -10, 0, 10, 20, 30, 40], "labelExpr": "datum.value % 20 === 0 ? replace(datum.label, '\u2212', '-') : ''", "title": "Seconds", "labelPadding": 1, "titlePadding": 1}},
       "y": {"field": "r", "type": "quantitative", "scale": {"domain": [0, 3.5], "nice": false},
             "axis": {"values": [0, 0.5, 1, 1.5, 2, 2.5, 3], "labelExpr": "datum.value % 1 === 0 ? format(datum.value, 'd') : ''", "title": null, "labelPadding": 10}}
      }},
     {"data": {"name": "labB"}, "transform": [{"filter": "datum.k == 'panel'"}], "mark": {"type": "text", "fontSize": 46},
      "encoding": {
       "x": {"field": "s", "type": "quantitative", "scale": {"domain": [-40, 40], "nice": false},
             "axis": {"values": [-40, -30, -20, -10, 0, 10, 20, 30, 40], "labelExpr": "datum.value % 20 === 0 ? replace(datum.label, '\u2212', '-') : ''", "title": "Seconds", "labelPadding": 1, "titlePadding": 1}},
       "y": {"field": "r", "type": "quantitative", "scale": {"domain": [0, 3.5], "nice": false},
             "axis": {"values": [0, 0.5, 1, 1.5, 2, 2.5, 3], "labelExpr": "datum.value % 1 === 0 ? format(datum.value, 'd') : ''", "title": null, "labelPadding": 10}},
       "text": {"field": "txt"}}},
     {"data": {"name": "labB"}, "transform": [{"filter": "datum.k == 'head'"}], "mark": {"type": "text", "fontSize": 16, "align": "center"},
      "encoding": {
       "x": {"field": "s", "type": "quantitative", "scale": {"domain": [-40, 40], "nice": false},
             "axis": {"values": [-40, -30, -20, -10, 0, 10, 20, 30, 40], "labelExpr": "datum.value % 20 === 0 ? replace(datum.label, '\u2212', '-') : ''", "title": "Seconds", "labelPadding": 1, "titlePadding": 1}},
       "y": {"field": "r", "type": "quantitative", "scale": {"domain": [0, 3.5], "nice": false},
             "axis": {"values": [0, 0.5, 1, 1.5, 2, 2.5, 3], "labelExpr": "datum.value % 1 === 0 ? format(datum.value, 'd') : ''", "title": null, "labelPadding": 10}},
       "text": {"field": "txt"}}}
    ]},
   {"width": 199.5, "height": 184, "data": {"values": []}, "mark": {"type": "point", "opacity": 0}, "encoding": {}},
   {"width": 271, "height": 184,
    "layer": [
     {"data": {"values": [{}]}, "mark": {"type": "rule", "strokeDash": [6, 4], "strokeWidth": 1.3, "color": "#333"}, "encoding": {"y": {"datum": 1, "type": "quantitative"}}},
     {"data": {"values": [{}]}, "mark": {"type": "rule", "strokeDash": [3, 3], "strokeWidth": 1.5, "color": "#333"}, "encoding": {"x": {"datum": 0, "type": "quantitative"}}},
     {"data": {"name": "ccC"}, "mark": {"type": "line", "color": "#222", "strokeWidth": 2},
      "encoding": {
       "x": {"field": "s", "type": "quantitative", "scale": {"domain": [-20, 20], "nice": false},
             "axis": {"values": [-20, -15, -10, -5, 0, 5, 10, 15, 20], "labelExpr": "datum.value % 10 === 0 ? replace(datum.label, '\u2212', '-') : ''", "title": "Seconds", "labelPadding": 1, "titlePadding": 1}},
       "y": {"field": "r", "type": "quantitative", "scale": {"domain": [0, 1.5], "nice": false},
             "axis": {"values": [0, 0.5, 1, 1.5], "labelExpr": "datum.value === 1.5 ? ['1.', '5'] : datum.value === 0.5 ? ['0.', '5'] : format(datum.value, 'd')", "title": null, "labelAlign": "left", "labelPadding": 13.5, "labelLineHeight": 14, "labelBaseline": {"condition": {"test": "datum.value === 1.5 || datum.value === 0.5", "value": "top"}, "value": "middle"}}}
      }},
     {"data": {"name": "labC"}, "transform": [{"filter": "datum.k == 'panel'"}], "mark": {"type": "text", "fontSize": 46},
      "encoding": {
       "x": {"field": "s", "type": "quantitative", "scale": {"domain": [-20, 20], "nice": false},
             "axis": {"values": [-20, -15, -10, -5, 0, 5, 10, 15, 20], "labelExpr": "datum.value % 10 === 0 ? replace(datum.label, '\u2212', '-') : ''", "title": "Seconds", "labelPadding": 1, "titlePadding": 1}},
       "y": {"field": "r", "type": "quantitative", "scale": {"domain": [0, 1.5], "nice": false},
             "axis": {"values": [0, 0.5, 1, 1.5], "labelExpr": "datum.value === 1.5 ? ['1.', '5'] : datum.value === 0.5 ? ['0.', '5'] : format(datum.value, 'd')", "title": null, "labelAlign": "left", "labelPadding": 13.5, "labelLineHeight": 14, "labelBaseline": {"condition": {"test": "datum.value === 1.5 || datum.value === 0.5", "value": "top"}, "value": "middle"}}},
       "text": {"field": "txt"}}},
     {"data": {"name": "labC"}, "transform": [{"filter": "datum.k == 'head'"}], "mark": {"type": "text", "fontSize": 16, "align": "center"},
      "encoding": {
       "x": {"field": "s", "type": "quantitative", "scale": {"domain": [-20, 20], "nice": false},
             "axis": {"values": [-20, -15, -10, -5, 0, 5, 10, 15, 20], "labelExpr": "datum.value % 10 === 0 ? replace(datum.label, '\u2212', '-') : ''", "title": "Seconds", "labelPadding": 1, "titlePadding": 1}},
       "y": {"field": "r", "type": "quantitative", "scale": {"domain": [0, 1.5], "nice": false},
             "axis": {"values": [0, 0.5, 1, 1.5], "labelExpr": "datum.value === 1.5 ? ['1.', '5'] : datum.value === 0.5 ? ['0.', '5'] : format(datum.value, 'd')", "title": null, "labelAlign": "left", "labelPadding": 13.5, "labelLineHeight": 14, "labelBaseline": {"condition": {"test": "datum.value === 1.5 || datum.value === 0.5", "value": "top"}, "value": "middle"}}},
       "text": {"field": "txt"}}}
    ]}
  ]
 }
]
}
